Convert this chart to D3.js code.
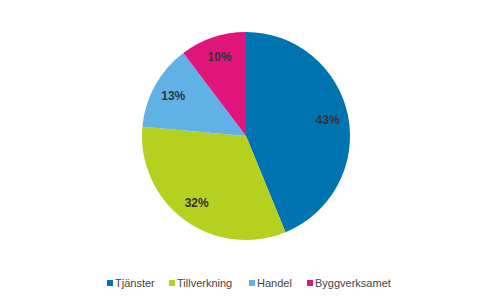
<!DOCTYPE html>
<html>
<head>
<meta charset="utf-8">
<script src="https://cdn.jsdelivr.net/npm/d3@7"></script>
<style>
  body { margin: 0; background: #fff; }
  svg { display: block; font-family: "Liberation Sans", Arial, sans-serif; }
</style>
</head>
<body>
<svg id="chart" width="491" height="303"></svg>
<script>
const categories = ["Tjänster", "Tillverkning", "Handel", "Byggverksamet"];
const values = [43.8, 32.6, 13.3, 10.3];
const sliceLabels = ["43%", "32%", "13%", "10%"];
const colors = ["#0073b1", "#b6d020", "#60b2e6", "#e0157c"];

const svg = d3.select("#chart");
const cx = 246, cy = 136, radius = 104;

const pie = d3.pie().sort(null).value(d => d.value);
const arc = d3.arc().innerRadius(0).outerRadius(radius);
const labelArc = d3.arc().innerRadius(radius * 0.8).outerRadius(radius * 0.8);

const data = categories.map((c, i) => ({name: c, value: values[i], label: sliceLabels[i], color: colors[i]}));

const g = svg.append("g").attr("transform", `translate(${cx},${cy})`);

g.selectAll("path.slice")
  .data(pie(data))
  .join("path")
  .attr("class", "slice")
  .attr("fill", d => d.data.color)
  .attr("d", arc);

g.selectAll("text.pct")
  .data(pie(data))
  .join("text")
  .attr("class", "pct")
  .attr("transform", d => `translate(${labelArc.centroid(d)})`)
  .attr("text-anchor", "middle")
  .attr("dy", "0.35em")
  .attr("font-size", 12)
  .attr("font-weight", "bold")
  .attr("fill", "#333")
  .text(d => d.data.label);

// legend
const legendX = [107, 169, 249, 307];
const legend = svg.append("g").attr("transform", "translate(0,283)");
const item = legend.selectAll("g")
  .data(data)
  .join("g")
  .attr("transform", (d, i) => `translate(${legendX[i]},0)`);

item.append("rect")
  .attr("x", 0).attr("y", -3)
  .attr("width", 6).attr("height", 6)
  .attr("fill", d => d.color);

item.append("text")
  .attr("x", 8)
  .attr("dy", "0.35em")
  .attr("font-size", 11)
  .attr("fill", "#444")
  .text(d => d.name);
</script>
</body>
</html>
